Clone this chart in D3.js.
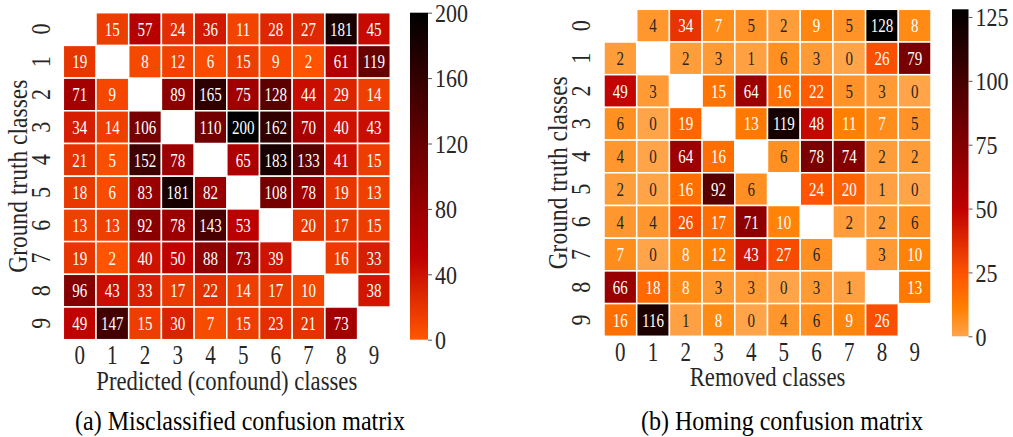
<!DOCTYPE html>
<html>
<head>
<meta charset="utf-8">
<script src="https://cdn.jsdelivr.net/npm/d3@7"></script>
<style>
  body { margin: 0; background: white; }
  svg { display: block; }
  text { font-family: "Liberation Serif", "DejaVu Serif", serif; }
</style>
</head>
<body>
<svg width="1013" height="437"></svg>
<script>
const classes = ["0", "1", "2", "3", "4", "5", "6", "7", "8", "9"];

// rows = ground truth, columns = predicted / removed; diagonal left empty
const misclassified = [
  [null, 15, 57, 24, 36, 11, 28, 27, 181, 45],
  [19, null, 8, 12, 6, 15, 9, 2, 61, 119],
  [71, 9, null, 89, 165, 75, 128, 44, 29, 14],
  [34, 14, 106, null, 110, 200, 162, 70, 40, 43],
  [21, 5, 152, 78, null, 65, 183, 133, 41, 15],
  [18, 6, 83, 181, 82, null, 108, 78, 19, 13],
  [13, 13, 92, 78, 143, 53, null, 20, 17, 15],
  [19, 2, 40, 50, 88, 73, 39, null, 16, 33],
  [96, 43, 33, 17, 22, 14, 17, 10, null, 38],
  [49, 147, 15, 30, 7, 15, 23, 21, 73, null],
];

const homing = [
  [null, 4, 34, 7, 5, 2, 9, 5, 128, 8],
  [2, null, 2, 3, 1, 6, 3, 0, 26, 79],
  [49, 3, null, 15, 64, 16, 22, 5, 3, 0],
  [6, 0, 19, null, 13, 119, 48, 11, 7, 5],
  [4, 0, 64, 16, null, 6, 78, 74, 2, 2],
  [2, 0, 16, 92, 6, null, 24, 20, 1, 0],
  [4, 4, 26, 17, 71, 10, null, 2, 2, 6],
  [7, 0, 8, 12, 43, 27, 6, null, 3, 10],
  [66, 18, 8, 3, 3, 0, 3, 1, null, 13],
  [16, 116, 1, 8, 0, 4, 6, 9, 26, null],
];

const leftTicks = [0, 40, 80, 120, 160, 200];
const rightTicks = [0, 25, 50, 75, 100, 125];

const panels = [
  {
    matrix: misclassified,
    domain: [0, 200],
    ticks: leftTicks,
    start: 0.67,
    x: 63.3, y: 12.7,
    cbarX: 410, cbarW: 18,
    xLabel: "Predicted (confound) classes",
    caption: "(a) Misclassified confusion matrix",
    captionX: 240,
    yLabelX: 27,
    yTickX: 50,
    id: "a",
  },
  {
    matrix: homing,
    domain: [0, 128],
    ticks: rightTicks,
    start: 0.821,
    x: 604, y: 9.3,
    cbarX: 952, cbarW: 16.5,
    xLabel: "Removed classes",
    caption: "(b) Homing confusion matrix",
    captionX: 782,
    yLabelX: 567,
    yTickX: 590,
    id: "b",
  },
];

const SIZE = 327;
// the original type is drawn taller than it is wide
const STRETCH = 1.27;
const svg = d3.select("svg");

// gist_heat, reversed and cut off at the light end
const gistHeat = x => d3.rgb(
  255 * Math.min(1, Math.max(0, 1.5 * x)),
  255 * Math.min(1, Math.max(0, 2 * x - 1)),
  255 * Math.min(1, Math.max(0, 4 * x - 3))
);

const luminance = c => {
  const lin = v => {
    v /= 255;
    return v <= 0.03928 ? v / 12.92 : Math.pow((v + 0.055) / 1.055, 2.4);
  };
  return 0.2126 * lin(c.r) + 0.7152 * lin(c.g) + 0.0722 * lin(c.b);
};

const place = (x, y, rotate = 0, s = STRETCH) =>
  `translate(${x},${y}) rotate(${rotate}) scale(1,${s})`;

panels.forEach(p => {
  const color = v => gistHeat(p.start * (1 - (v - p.domain[0]) / (p.domain[1] - p.domain[0])));

  const x = d3.scaleBand().domain(classes).range([p.x, p.x + SIZE]);
  const y = d3.scaleBand().domain(classes).range([p.y, p.y + SIZE]);

  const cells = p.matrix.flatMap((row, r) =>
    row.map((value, c) => ({ row: classes[r], col: classes[c], value }))
  ).filter(d => d.value !== null);

  const g = svg.append("g");

  g.selectAll("rect")
    .data(cells)
    .join("rect")
    .attr("x", d => x(d.col))
    .attr("y", d => y(d.row))
    .attr("width", x.bandwidth())
    .attr("height", y.bandwidth())
    .attr("fill", d => color(d.value))
    .attr("stroke", "white")
    .attr("stroke-width", 1.5);

  g.selectAll("text.annot")
    .data(cells)
    .join("text")
    .attr("class", "annot")
    .attr("transform", d => place(x(d.col) + x.bandwidth() / 2, y(d.row) + y.bandwidth() / 2))
    .attr("dy", "0.35em")
    .attr("text-anchor", "middle")
    .attr("font-size", 15)
    .attr("fill", d => (luminance(color(d.value)) > 0.408 ? "#262626" : "white"))
    .text(d => d.value);

  // x tick labels
  g.selectAll("text.xtick")
    .data(classes)
    .join("text")
    .attr("class", "xtick")
    .attr("transform", d => place(x(d) + x.bandwidth() / 2, p.y + SIZE + 24.5))
    .attr("text-anchor", "middle")
    .attr("font-size", 21)
    .attr("fill", "#262626")
    .text(d => d);

  // y tick labels, rotated like the original
  g.selectAll("text.ytick")
    .data(classes)
    .join("text")
    .attr("class", "ytick")
    .attr("transform", d => place(p.yTickX, y(d) + y.bandwidth() / 2, -90))
    .attr("text-anchor", "middle")
    .attr("font-size", 22)
    .attr("fill", "#262626")
    .text(d => d);

  g.append("text")
    .attr("transform", place(p.x + SIZE / 2, p.y + SIZE + 50, 0, 1.2))
    .attr("text-anchor", "middle")
    .attr("font-size", 22.7)
    .attr("fill", "#262626")
    .text(p.xLabel);

  g.append("text")
    .attr("transform", place(p.yLabelX, p.y + SIZE / 2, -90, 1.15))
    .attr("text-anchor", "middle")
    .attr("font-size", 23.5)
    .attr("fill", "#262626")
    .text("Ground truth classes");

  g.append("text")
    .attr("transform", place(p.captionX, 430, 0, 1.15))
    .attr("text-anchor", "middle")
    .attr("font-size", 24)
    .attr("fill", "black")
    .text(p.caption);

  // colour bar
  const cy = d3.scaleLinear().domain(p.domain).range([p.y + SIZE, p.y]);
  const grad = svg.append("defs")
    .append("linearGradient")
    .attr("id", `grad-${p.id}`)
    .attr("x1", 0).attr("y1", 1).attr("x2", 0).attr("y2", 0);
  grad.selectAll("stop")
    .data(d3.range(0, 1.0001, 0.02))
    .join("stop")
    .attr("offset", t => t)
    .attr("stop-color", t => color(p.domain[0] + t * (p.domain[1] - p.domain[0])));

  g.append("rect")
    .attr("x", p.cbarX)
    .attr("y", p.y)
    .attr("width", p.cbarW)
    .attr("height", SIZE)
    .attr("fill", `url(#grad-${p.id})`);

  const axis = g.append("g")
    .attr("transform", `translate(${p.cbarX + p.cbarW},0)`)
    .call(d3.axisRight(cy).tickValues(p.ticks).tickSize(4).tickPadding(3));
  axis.select(".domain").remove();
  axis.selectAll("line").attr("stroke", "#555").attr("stroke-width", 1);
  axis.selectAll("text")
    .attr("font-family", "Liberation Serif")
    .attr("font-size", 22)
    .attr("fill", "#262626")
    .attr("dy", "0.36em")
    .attr("transform", "scale(1,1.1)");
});
</script>
</body>
</html>
